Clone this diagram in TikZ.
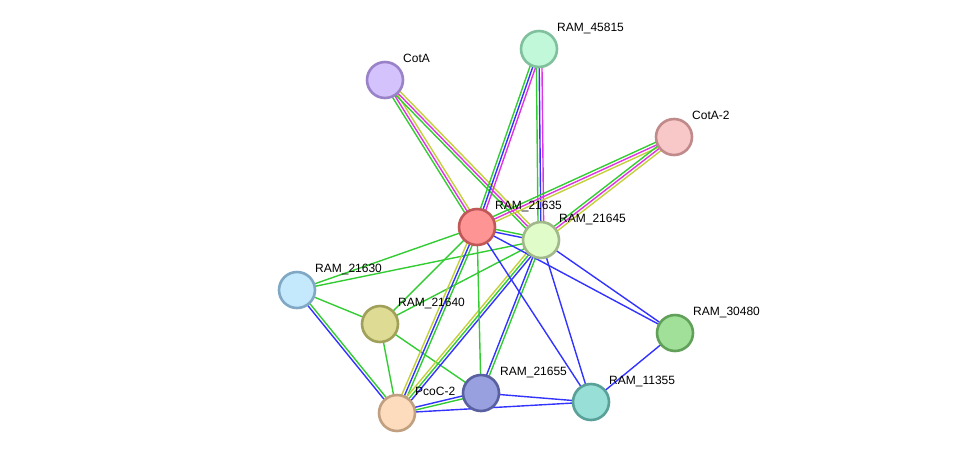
\documentclass[tikz,border=0pt]{standalone}
\usepackage{fontspec}
\setmainfont{Liberation Sans}
\usetikzlibrary{calc,backgrounds}
\definecolor{eg}{HTML}{33CC33}
\definecolor{eb}{HTML}{3333FF}
\definecolor{em}{HTML}{E033E0}
\definecolor{ey}{HTML}{C4D03A}
\definecolor{f1}{HTML}{D4C2FC}\definecolor{d1}{HTML}{9A82C8}
\definecolor{f2}{HTML}{C2F8DA}\definecolor{d2}{HTML}{80C09C}
\definecolor{f3}{HTML}{F8C8C8}\definecolor{d3}{HTML}{C08A8A}
\definecolor{f4}{HTML}{FF9494}\definecolor{d4}{HTML}{C05858}
\definecolor{f5}{HTML}{E0FCC8}\definecolor{d5}{HTML}{A0B88A}
\definecolor{f6}{HTML}{C4E8FC}\definecolor{d6}{HTML}{80A8C4}
\definecolor{f7}{HTML}{DEDB94}\definecolor{d7}{HTML}{A0A05A}
\definecolor{f8}{HTML}{A0E098}\definecolor{d8}{HTML}{60A058}
\definecolor{f9}{HTML}{98A0E0}\definecolor{d9}{HTML}{5860A0}
\definecolor{f10}{HTML}{98DFD8}\definecolor{d10}{HTML}{58A098}
\definecolor{f11}{HTML}{FCDCBC}\definecolor{d11}{HTML}{C0A080}
\tikzset{
  prot/.style={circle, minimum size=36pt, inner sep=0pt, line width=2.6pt},
  lab/.style={anchor=base west, font=\fontsize{12}{14}\selectfont, text=black, inner sep=0pt},
}
\newcommand\sedge[3]{%
  \foreach \cc/\oo in {#3} {%
    \draw[line width=1.4pt, \cc] ($(#1)!\oo pt!90:(#2)$) -- ($(#2)!\oo pt!-90:(#1)$);
  }%
}
\begin{document}
\begin{tikzpicture}[x=1pt,y=-1pt]
\useasboundingbox (0,0) rectangle (976,459);
\node[prot, fill=f1, draw=d1] (cota) at (385,80) {};
\node[prot, fill=f2, draw=d2] (r45815) at (539,49) {};
\node[prot, fill=f3, draw=d3] (cota2) at (674,137) {};
\node[prot, fill=f4, draw=d4] (r21635) at (477,227) {};
\node[prot, fill=f5, draw=d5] (r21645) at (541,240) {};
\node[prot, fill=f6, draw=d6] (r21630) at (297,290) {};
\node[prot, fill=f7, draw=d7] (r21640) at (380,324) {};
\node[prot, fill=f8, draw=d8] (r30480) at (675,333) {};
\node[prot, fill=f9, draw=d9] (r21655) at (481,393) {};
\node[prot, fill=f10, draw=d10] (r11355) at (591,402) {};
\node[prot, fill=f11, draw=d11] (pcoc2) at (397,413) {};

\node[lab] (l1) at ($(cota)+(18,-18)$) {CotA};
\node[lab] (l2) at ($(r45815)+(18,-18)$) {RAM\_45815};
\node[lab] (l3) at ($(cota2)+(18,-18)$) {CotA-2};
\node[lab] (l4) at ($(r21635)+(18,-18)$) {RAM\_21635};
\node[lab] (l5) at ($(r21645)+(18,-18)$) {RAM\_21645};
\node[lab] (l6) at ($(r21630)+(18,-18)$) {RAM\_21630};
\node[lab] (l7) at ($(r21640)+(18,-18)$) {RAM\_21640};
\node[lab] (l8) at ($(r30480)+(18,-18)$) {RAM\_30480};
\node[lab] (l9) at ($(r21655)+(19,-18)$) {RAM\_21655};
\node[lab] (l10) at ($(r11355)+(18,-18)$) {RAM\_11355};
\node[lab] (l11) at ($(pcoc2)+(18,-18)$) {PcoC-2};

\begin{pgfonlayer}{background}
\sedge{cota}{r21635}{eg/-2.8, em/0, ey/2.8}
\sedge{cota}{r21645}{eg/-2.8, em/0, ey/2.8}
\sedge{r45815}{r21635}{eg/-2.8, eb/0, em/2.8}
\sedge{r45815}{r21645}{eg/-2.8, eb/0, em/2.8}
\sedge{cota2}{r21635}{eg/-2.8, em/0, ey/2.8}
\sedge{cota2}{r21645}{eg/-2.8, em/0, ey/2.8}
\sedge{r21635}{r21645}{eb/-1.4, eg/1.4}
\sedge{r21630}{r21635}{eg/0}
\sedge{r21630}{r21645}{eg/0}
\sedge{r21630}{r21640}{eg/0}
\sedge{r21630}{pcoc2}{eb/-1.4, eg/1.4}
\sedge{r21640}{r21635}{eg/0}
\sedge{r21640}{r21645}{eg/0}
\sedge{r21640}{pcoc2}{eg/0}
\sedge{r21640}{r21655}{eg/0}
\sedge{r21635}{pcoc2}{ey/-2.8, eb/0, eg/2.8}
\sedge{r21645}{pcoc2}{ey/-2.8, eg/0, eb/2.8}
\sedge{r21635}{r21655}{eg/0}
\sedge{r21645}{r21655}{eb/-1.4, eg/1.4}
\sedge{r21635}{r11355}{eb/0}
\sedge{r21645}{r11355}{eb/0}
\sedge{r21635}{r30480}{eb/0}
\sedge{r21645}{r30480}{eb/0}
\sedge{r30480}{r11355}{eb/0}
\sedge{r21655}{r11355}{eb/0}
\sedge{pcoc2}{r11355}{eb/0}
\sedge{pcoc2}{r21655}{eg/-1.4, eb/1.4}
\end{pgfonlayer}
\end{tikzpicture}
\end{document}
